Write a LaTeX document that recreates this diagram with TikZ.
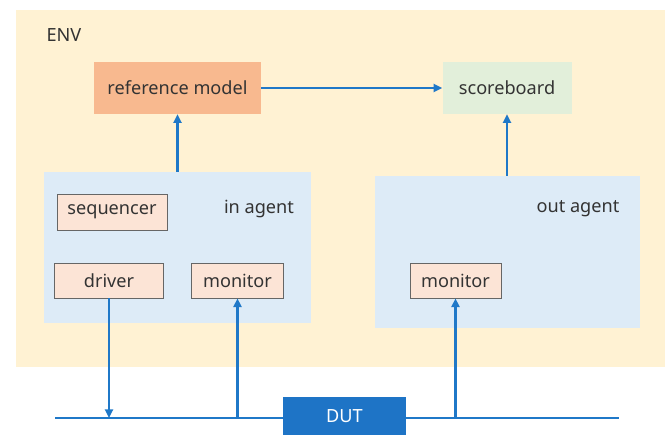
\documentclass[tikz,border=0pt]{standalone}
\usepackage{fontspec}
\setmainfont{Noto Sans}
\usetikzlibrary{arrows.meta}
\definecolor{envYellow}{HTML}{FFF2D3}
\definecolor{refOrange}{HTML}{F8B98F}
\definecolor{sbGreen}{HTML}{E2EFDA}
\definecolor{agentBlue}{HTML}{DDEBF7}
\definecolor{compPink}{HTML}{FCE4D6}
\definecolor{lineBlue}{HTML}{1F78C8}
\definecolor{dutBlue}{HTML}{1E74C6}
\definecolor{txtGray}{HTML}{333333}

\begin{document}
\begin{tikzpicture}[x=0.75pt, y=-0.75pt, line cap=butt, >={Triangle[length=6.5pt, width=6pt]},
    every node/.style={font=\fontsize{13.6}{16}\selectfont, text=txtGray, inner sep=0pt},
    comp/.style={fill=compPink, draw=black!60, line width=0.6pt},
    link/.style={lineBlue, line width=2.1pt, ->}]
        \useasboundingbox (0,0) rectangle (668,435);
        \node[fill=envYellow, minimum width=649*0.75pt, minimum height=357*0.75pt] (env) at (340.5,188.5) {};
        \node (envlabel) at (64,35) {ENV};
        \node[fill=refOrange, minimum width=167*0.75pt, minimum height=52*0.75pt] (refmodel) at (177.5,88) {reference model};
        \node[fill=sbGreen, minimum width=129*0.75pt, minimum height=52*0.75pt] (scoreboard) at (507,88) {scoreboard};
        \node[fill=agentBlue, minimum width=267*0.75pt, minimum height=151*0.75pt] (inagent) at (177.5,247.5) {};
        \node[fill=agentBlue, minimum width=265*0.75pt, minimum height=152*0.75pt] (outagent) at (507,252) {};
        \node (inlabel) at (259,209) {in agent};
        \node (outlabel) at (578,209) {out agent};
        \node[comp, minimum width=110*0.75pt, minimum height=36*0.75pt] (sequencer) at (112,212) {sequencer};
        \node[comp, minimum width=109*0.75pt, minimum height=35*0.75pt] (driver) at (109,280.5) {driver};
        \node[comp, minimum width=92*0.75pt, minimum height=35*0.75pt] (inmonitor) at (237.5,280.5) {monitor};
        \node[comp, minimum width=91*0.75pt, minimum height=35*0.75pt] (outmonitor) at (455.5,280.5) {monitor};
        \coordinate (busL) at (55,418);
        \coordinate (busR) at (619,418);
        \draw[lineBlue, line width=1.5pt] (busL) -- (busR);
        \node[fill=dutBlue, text=white, minimum width=123*0.75pt, minimum height=38*0.75pt] (dut) at (344.5,416) {DUT};
        \draw[link] (inagent.north) -- (refmodel.south);
        \draw[link] (refmodel.east) -- (scoreboard.west);
        \draw[link] (outagent.north) -- (scoreboard.south);
        \draw[link] (driver.south) -- (driver.south |- busL);
        \draw[link] (inmonitor.south |- busL) -- (inmonitor.south);
        \draw[link] (outmonitor.south |- busL) -- (outmonitor.south);
    \end{tikzpicture}
\end{document}
